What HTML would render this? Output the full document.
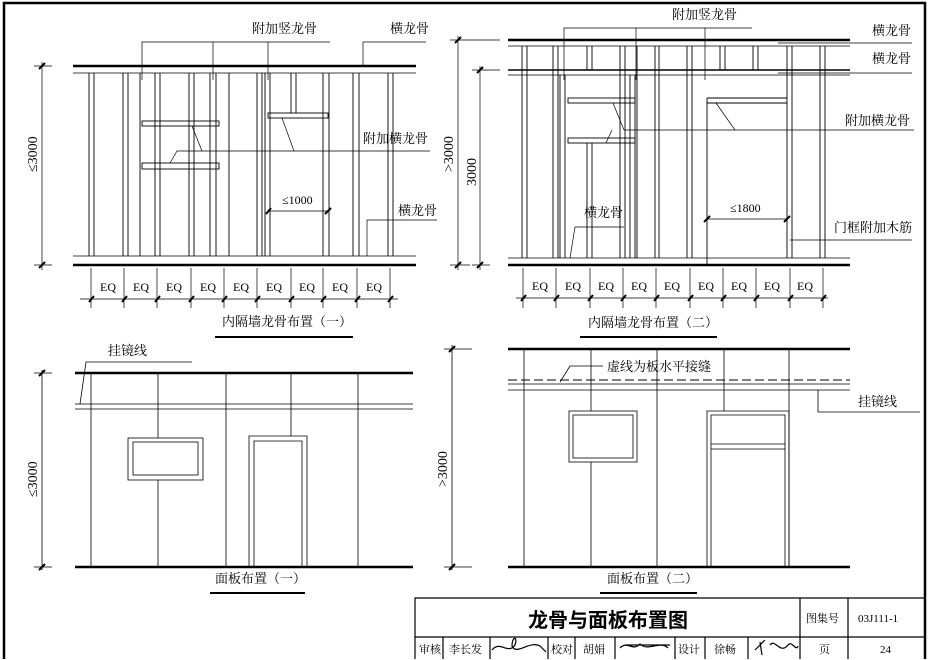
<!DOCTYPE html>
<html><head><meta charset="utf-8"><style>
html,body{margin:0;padding:0;background:#fff}
svg{display:block}
text{font-family:"Liberation Serif","Noto Serif CJK SC","Noto Sans CJK SC",serif;fill:#000}
</style></head><body>
<svg width="929" height="660" viewBox="0 0 929 660" xmlns="http://www.w3.org/2000/svg">
<g stroke="#000" fill="none">
<path d="M4 659 V3 H925 V659" stroke-width="2.5"/>

<line x1="73" y1="66" x2="416" y2="66" stroke-width="2.5"/>
<line x1="73" y1="73" x2="416" y2="73" stroke-width="0.8"/>
<line x1="73" y1="256" x2="416" y2="256" stroke-width="0.8"/>
<line x1="73" y1="265" x2="416" y2="265" stroke-width="2.5"/>
<g stroke-width="0.9">
<path d="M89 73V256M94 73V256M123 73V256M128 73V256M140 73V256M155 73V256M160 73V256M189 73V256M194 73V256M210 73V256M216 73V256M229 73V256M257 73V256M262 73V256M265 73V256M270 73V256M291 73V113M296 73V113M323 73V256M329 73V256M353 73V256M359 73V256M388 73V256M393 73V256"/>
<rect x="142" y="121" width="77" height="5"/>
<rect x="142" y="163" width="77" height="6"/>
<rect x="268" y="113" width="60" height="5"/>
</g>
<g stroke-width="0.7">
<path d="M142 80V42H330M213 80V42M268 80V42"/>
<path d="M363 66V42H426"/>
<path d="M170 163L177 151H430M192 126L202 151M282 118L294 151"/>
<path d="M367 256V220H437"/>
<path d="M268 211H328"/>
<path d="M42 62V270M34 66H52M34 265H52"/>
<path d="M80 299H398M91 268V308M124 268V308M157 268V308M191 268V308M224 268V308M257 268V308M291 268V308M323 268V308M357 268V308M390 268V308"/>
</g>
<g stroke-width="2">
<path d="M39 69L45 63M39 268L45 262M266 214L271 208M325 214L331 208"/>
<path d="M89 302L94 296M122 302L127 296M155 302L160 296M189 302L194 296M222 302L227 296M255 302L260 296M289 302L294 296M321 302L326 296M355 302L360 296M388 302L393 296"/>
</g>
<line x1="215" y1="337" x2="353" y2="337" stroke-width="2"/>

<line x1="508" y1="40" x2="850" y2="40" stroke-width="2.5"/>
<line x1="508" y1="46" x2="850" y2="46" stroke-width="0.8"/>
<line x1="508" y1="70" x2="850" y2="70" stroke-width="1.4"/>
<line x1="508" y1="75" x2="850" y2="75" stroke-width="0.8"/>
<line x1="508" y1="258" x2="850" y2="258" stroke-width="0.8"/>
<line x1="508" y1="265" x2="850" y2="265" stroke-width="2.5"/>
<g stroke-width="0.9">
<path d="M522 46V258M527 46V258M553 46V258M558 46V258M560 75V258M565 75V258M587 46V70M592 46V70M587 143V258M592 143V258M620 46V258M625 46V258M630 75V258M635 75V258M637 46V258M655 46V258M659 46V258M687 46V258M692 46V258M720 46V70M725 46V70M753 46V70M758 46V70M787 46V258M792 46V258M820 46V258M825 46V258"/>
<rect x="568" y="98" width="67" height="5"/>
<rect x="568" y="138" width="67" height="5"/>
<path d="M707 98V265M707 98H787M707 103H787"/>
</g>
<g stroke-width="0.7">
<path d="M564 80V28H752M636 80V28M705 80V28"/>
<path d="M778 43H912M778 73H912"/>
<path d="M613 103L624 130H914M606 143L612 130M716 103L735 130"/>
<path d="M790 240H912"/>
<path d="M570 258L575 227H624"/>
<path d="M707 219H787"/>
<path d="M458 36V270M450 40H500M450 265H470M480 66V270M472 70H500M472 265H490"/>
<path d="M516 298H828M523 268V308M556 268V308M590 268V308M623 268V308M656 268V308M690 268V308M723 268V308M756 268V308M790 268V308M823 268V308"/>
</g>
<g stroke-width="2">
<path d="M455 43L461 37M455 268L461 262M477 73L483 67M477 268L483 262M704 222L710 216M784 222L790 216"/>
<path d="M521 301L526 295M554 301L559 295M588 301L593 295M621 301L626 295M654 301L659 295M688 301L693 295M721 301L726 295M754 301L759 295M788 301L793 295M821 301L826 295"/>
</g>
<line x1="580" y1="337" x2="717" y2="337" stroke-width="2"/>

<line x1="75" y1="373" x2="413" y2="373" stroke-width="2.5"/>
<line x1="75" y1="404" x2="413" y2="404" stroke-width="0.8"/>
<line x1="75" y1="409" x2="413" y2="409" stroke-width="0.8"/>
<line x1="75" y1="567" x2="413" y2="567" stroke-width="2.5"/>
<g stroke-width="0.8">
<path d="M91 373V567M158 373V438M158 480V567M226 373V567M291 373V436M358 373V567"/>
<rect x="128" y="438" width="75" height="42"/>
<rect x="133" y="442" width="65" height="33"/>
<path d="M249 567V436H307V567M254 567V441H302V567"/>
<path d="M80 404L86 362H192"/>
<path d="M42 370V570M34 373H52M34 567H52"/>
</g>
<path d="M39 376L45 370M39 570L45 564" stroke-width="2"/>
<line x1="210" y1="593" x2="305" y2="593" stroke-width="2"/>

<line x1="508" y1="349" x2="850" y2="349" stroke-width="2.5"/>
<line x1="508" y1="380" x2="850" y2="380" stroke-width="1" stroke-dasharray="9,4"/>
<line x1="508" y1="384" x2="850" y2="384" stroke-width="0.8"/>
<line x1="508" y1="390" x2="850" y2="390" stroke-width="0.8"/>
<line x1="508" y1="567" x2="850" y2="567" stroke-width="2.5"/>
<g stroke-width="0.8">
<path d="M524 349V567M591 349V411M591 462V567M657 349V567M724 349V411M789 349V567"/>
<rect x="569" y="411" width="68" height="51"/>
<rect x="573" y="415" width="60" height="43"/>
<path d="M707 567V411H789V567M711 567V415H785V567M711 444H785M711 449H785"/>
<path d="M560 382L570 366H603"/>
<path d="M818 390V412H920"/>
<path d="M452 345V570M444 349H472M444 567H472"/>
</g>
<path d="M449 352L455 346M449 570L455 564" stroke-width="2"/>
<line x1="600" y1="593" x2="697" y2="593" stroke-width="2"/>

<g stroke-width="1.2">
<path d="M415 659V598H925M415 637H925M800 598V659M848 598V659"/>
<path d="M443 637V659M490 637V659M548 637V659M575 637V659M615 637V659M675 637V659M705 637V659M748 637V659"/>
</g>
<g stroke-width="1.2">
<path d="M492 650C500 640 508 655 515 645C518 636 512 636 512 646C516 656 530 640 540 646L546 652"/>
<path d="M620 648C628 640 632 652 640 644C648 652 660 640 668 648M625 645H670"/>
<path d="M755 650L765 640M760 642L762 655M770 645C775 638 780 655 788 645C792 640 796 652 798 646"/>
</g>
</g>

<g font-size="13">
<text x="252" y="33">附加竖龙骨</text>
<text x="390" y="33">横龙骨</text>
<text x="363" y="143">附加横龙骨</text>
<text x="282" y="204" font-size="12">≤1000</text>
<text x="398" y="215">横龙骨</text>
<text transform="translate(37,172) rotate(-90)" font-size="14">≤3000</text>
<g font-size="12">
<text x="100" y="291">EQ</text><text x="133" y="291">EQ</text><text x="166" y="291">EQ</text><text x="200" y="291">EQ</text><text x="233" y="291">EQ</text><text x="266" y="291">EQ</text><text x="299" y="291">EQ</text><text x="332" y="291">EQ</text><text x="366" y="291">EQ</text>
</g>
<text x="222" y="326">内隔墙龙骨布置（一）</text>

<text x="672" y="19">附加竖龙骨</text>
<text x="872" y="35">横龙骨</text>
<text x="872" y="63">横龙骨</text>
<text x="845" y="125">附加横龙骨</text>
<text x="730" y="212" font-size="12">≤1800</text>
<text x="584" y="217">横龙骨</text>
<text x="834" y="232">门框附加木筋</text>
<text transform="translate(453,172) rotate(-90)" font-size="14">&gt;3000</text>
<text transform="translate(476,186) rotate(-90)" font-size="14">3000</text>
<g font-size="12">
<text x="532" y="290">EQ</text><text x="565" y="290">EQ</text><text x="598" y="290">EQ</text><text x="631" y="290">EQ</text><text x="664" y="290">EQ</text><text x="698" y="290">EQ</text><text x="731" y="290">EQ</text><text x="764" y="290">EQ</text><text x="797" y="290">EQ</text>
</g>
<text x="588" y="327">内隔墙龙骨布置（二）</text>

<text x="108" y="355">挂镜线</text>
<text transform="translate(37,497) rotate(-90)" font-size="14">≤3000</text>
<text x="215" y="583">面板布置（一）</text>

<text x="607" y="371">虚线为板水平接缝</text>
<text x="858" y="406">挂镜线</text>
<text transform="translate(447,487) rotate(-90)" font-size="14">&gt;3000</text>
<text x="607" y="583">面板布置（二）</text>

<text x="608" y="627" font-size="20" font-weight="bold" text-anchor="middle" style="font-family:'Noto Sans CJK SC',sans-serif">龙骨与面板布置图</text>
<text x="806" y="622" font-size="11">图集号</text>
<text x="858" y="622" font-size="11">03J111-1</text>
<text x="419" y="653" font-size="11">审核</text>
<text x="449" y="653" font-size="11">李长发</text>
<text x="551" y="653" font-size="11">校对</text>
<text x="583" y="653" font-size="11">胡娟</text>
<text x="678" y="653" font-size="11">设计</text>
<text x="714" y="653" font-size="11">徐畅</text>
<text x="819" y="653" font-size="11">页</text>
<text x="880" y="653" font-size="11">24</text>
</g>
</svg>
</body></html>
